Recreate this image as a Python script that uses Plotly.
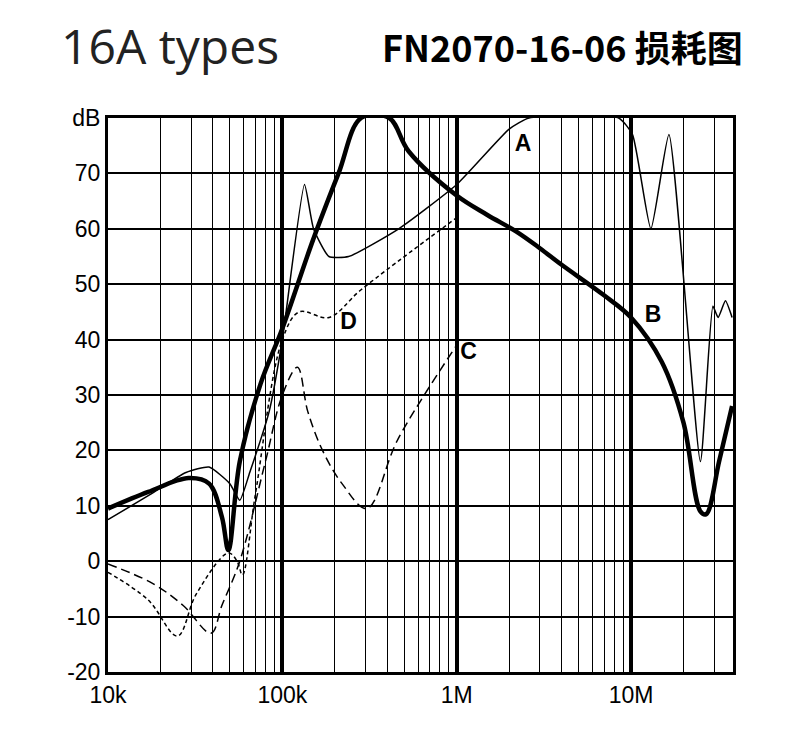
import plotly.graph_objects as go

# curve A (thin solid)
a_f = [1e4, 1.74e4, 2.8e4, 3.8e4, 5e4, 5.7e4, 6.5e4, 8.4e4, 1e5, 1.34e5, 1.51e5, 1.85e5, 2.4e5, 4.65e5,
       1e6, 2.0e6, 2.6e6, 8.5e6, 1.02e7, 1.3e7, 1.65e7, 2.5e7, 2.95e7, 3.16e7, 3.48e7, 3.8e7]
a_db = [7.5, 12, 16, 17, 14, 11, 16, 27, 40, 68, 60, 55, 55, 60,
        68, 78, 80, 80, 77, 60, 77, 18, 46, 44, 47, 44]
# curve B (thick solid)
b_f = [1e4, 1.7e4, 2.9e4, 3.8e4, 4.5e4, 4.9e4, 5.7e4, 7.5e4, 1e5, 1.5e5, 2.1e5, 2.83e5, 4.1e5,
       5.3e5, 1e6, 1.5e6, 2.2e6, 3e6, 4e6, 7e6, 1e7, 1.5e7, 2e7, 2.5e7, 2.7e7, 3.2e7, 3.8e7]
b_db = [9.5, 12.5, 15, 14, 8, 2, 18, 32, 42, 58, 70, 80, 80,
        74, 66, 62.5, 59.5, 56.5, 53.5, 48, 44, 36, 25, 9, 8.5, 18, 28]
# curve C (long dash)
c_f = [1e4, 1.8e4, 2.7e4, 3.9e4, 4.5e4, 5.7e4, 8e4, 1e5, 1.22e5, 1.4e5, 1.7e5, 2.2e5, 3.05e5, 4.6e5, 1e6]
c_db = [-0.5, -4, -8, -13, -8, 0, 18, 30, 35, 27, 20, 14, 9.5, 22, 39]
# curve D (short dash)
d_f = [1e4, 1.7e4, 2.5e4, 3.2e4, 4.9e4, 5.5e4, 5.9e4, 7e4, 1e5, 1.25e5, 1.85e5, 2.83e5, 1e6]
d_db = [-2, -7, -13.5, -6, 1.5, 0, -2.5, 12, 40, 45, 44, 49, 62]

labels = ["A", "B", "C", "D"]
label_f = [2.4e6, 1.34e7, 1.17e6, 2.4e5]
label_db = [75, 44.3, 37.6, 43]

decades = [1e4, 1e5, 1e6, 1e7]
decade_text = ["10k", "100k", "1M", "10M"]
minor = [m * d for d in decades for m in range(2, 10)]
y_ticks = list(range(-20, 90, 10))
y_text = [str(v) if v < 80 else "dB" for v in y_ticks]

fig = go.Figure()
fig.add_trace(go.Scatter(x=a_f, y=a_db, mode="lines",
                         line=dict(color="black", width=1.5, shape="spline", smoothing=0.5)))
fig.add_trace(go.Scatter(x=b_f, y=b_db, mode="lines", line=dict(color="black", width=4.5, shape="spline")))
fig.add_trace(go.Scatter(x=c_f, y=c_db, mode="lines",
                         line=dict(color="black", width=1.5, dash="9px,5px", shape="spline")))
fig.add_trace(go.Scatter(x=d_f, y=d_db, mode="lines",
                         line=dict(color="black", width=1.5, dash="4px,3px", shape="spline")))
fig.add_trace(go.Scatter(x=label_f, y=label_db, mode="text", text=labels,
                         textfont=dict(family="Arial", size=23, color="black"),
                         texttemplate="<b>%{text}</b>"))

fig.update_layout(
    width=800, height=756, showlegend=False,
    plot_bgcolor="white", paper_bgcolor="white",
    margin=dict(l=100, r=75, t=110, b=92),
    font=dict(family="Arial", size=23, color="black"),
    xaxis=dict(type="log", range=[4, 7.585], tickvals=decades, ticktext=decade_text,
               showgrid=True, gridcolor="black", gridwidth=3.5, ticks="",
               showline=True, linecolor="black", linewidth=3, mirror=True,
               minor=dict(tickvals=minor, showgrid=True, gridcolor="black", gridwidth=1.2)),
    yaxis=dict(range=[-20, 80], tickvals=y_ticks, ticktext=y_text,
               showgrid=True, gridcolor="black", gridwidth=1.5, zeroline=False, ticks="",
               showline=True, linecolor="black", linewidth=3, mirror=True),
    annotations=[
        dict(text="16A types", xref="paper", yref="paper", x=-0.078, y=1.13, xanchor="left",
             yanchor="middle", showarrow=False,
             font=dict(family="Open Sans", size=48, color="#222")),
        dict(text="<b>FN2070-16-06 损耗图</b>", xref="paper", yref="paper", x=1.019, y=1.13,
             xanchor="right", yanchor="middle", showarrow=False,
             font=dict(family="Noto Sans CJK SC", size=36, color="black")),
    ],
)
fig.write_html("out.html")
